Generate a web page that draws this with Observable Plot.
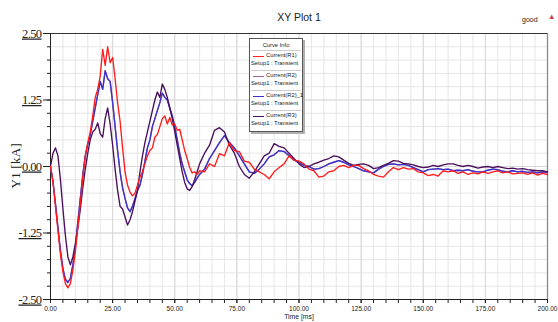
<!DOCTYPE html>
<html><head><meta charset="utf-8">
<script src="https://cdn.jsdelivr.net/npm/d3@7"></script>
<script src="https://cdn.jsdelivr.net/npm/@observablehq/plot@0.6"></script>
<style>
body{margin:0;background:#fff}
#wrap{position:relative;width:558px;height:322px;overflow:hidden;font-family:"Liberation Sans Narrow","Liberation Sans",Arial,sans-serif;color:#222}
.abs{position:absolute;white-space:nowrap;line-height:1}
g[aria-label="y-axis tick label"] text{text-decoration:underline;letter-spacing:-0.6px}
#legend{position:absolute;left:249px;top:38px;width:52px;height:92px;border:1px solid #555;background:#fff;box-shadow:2px 2px 0 #b0b0b0;font-size:5.8px}
#legend .sep{position:absolute;left:1px;right:1px;height:0;border-top:1px solid #ccc}
#legend .sw{position:absolute;left:3px;width:11px;height:0;border-top:1.5px solid}
</style></head>
<body>
<div id="wrap">
  <div id="chart"></div>
  <div class="abs" style="left:0;width:598px;top:12px;text-align:center;font-size:10.5px">XY Plot 1</div>
  <div class="abs" style="left:522px;top:16px;font-size:7px">good</div>
  <div class="abs" style="left:548px;top:13px;font-size:7.5px;color:#c04848">▲</div>
  <div class="abs" style="left:0;width:598px;top:314px;text-align:center;font-size:6.8px">Time [ms]</div>
  <div class="abs" style="left:16px;top:166px;transform:translate(-50%,-50%) rotate(-90deg);font-family:'Liberation Serif','Times New Roman',serif;font-size:13.5px">Y1 [kA]</div>
  <div id="legend"></div>
</div>
<script>
const seriesNames = ["Current(R1)", "Current(R2)", "Current(R2)_1", "Current(R3)"];
const seriesColors = ["#ff1c1c", "#a0668e", "#3b32cf", "#4a0f5c"];
const legendSub = "Setup1 : Transient";
const xTicks = [0, 25, 50, 75, 100, 125, 150, 175, 200];
const yTicks = [-2.5, -1.25, 0, 1.25, 2.5];

const time = [
  0,1,2,3,4,5,6,7,8,9,10,11,12,13,14,15,16,17,18,19,20,21,22,23,24,25,26,27,28,29,30,
  31,32,33,34,35,36,37,38,39,40,41,42,43,44,45,46,47,48,49,50,51,52,53,54,55,56,57,58,59,60,
  62,64,66,68,70,72,74,76,78,80,82,84,86,88,90,92,94,96,98,100,
  102,104,106,108,110,112,114,116,118,120,122,124,126,128,130,132,134,136,138,140,
  142,144,146,148,150,152,154,156,158,160,162,164,166,168,170,172,174,176,178,180,
  182,184,186,188,190,192,194,196,198,200
];

const r1 = [
  0.00,-0.30,-0.75,-1.20,-1.65,-1.98,-2.20,-2.28,-2.20,-1.95,-1.60,-1.15,-0.70,-0.20,0.20,0.45,0.65,0.95,1.30,1.45,1.70,
  2.20,1.90,2.25,1.95,2.05,1.65,1.20,0.85,0.35,-0.10,
  -0.35,-0.48,-0.55,-0.50,-0.35,-0.20,-0.10,0.05,0.20,0.30,0.35,0.55,0.60,0.75,0.90,0.95,0.80,0.92,0.78,0.80,
  0.68,0.70,0.50,0.30,0.15,-0.02,-0.12,-0.10,-0.15,-0.08,
  -0.10,0.05,0.00,0.24,0.20,0.45,0.30,0.28,0.10,0.08,-0.05,-0.10,-0.15,-0.23,-0.10,-0.02,0.05,0.20,0.12,0.10,
  0.05,-0.05,-0.08,-0.20,-0.18,-0.10,-0.08,0.00,0.02,-0.02,0.02,0.02,-0.04,-0.08,-0.15,-0.18,-0.20,-0.10,-0.02,-0.06,
  -0.02,-0.05,-0.04,-0.10,-0.12,-0.17,-0.15,-0.18,-0.08,-0.10,-0.08,-0.13,-0.10,-0.15,-0.12,-0.14,-0.10,-0.13,-0.10,-0.08,
  -0.12,-0.10,-0.14,-0.13,-0.12,-0.15,-0.12,-0.16,-0.13,-0.15
];

const r2_1 = [
  0.00,-0.28,-0.70,-1.15,-1.58,-1.92,-2.12,-2.18,-2.10,-1.85,-1.50,-1.05,-0.60,-0.15,0.20,0.42,0.60,0.85,1.10,1.35,1.60,
  1.45,1.80,1.65,1.60,1.20,0.75,0.30,-0.10,-0.40,-0.60,
  -0.78,-0.85,-0.75,-0.60,-0.45,-0.35,-0.15,0.10,0.35,0.50,0.75,0.90,1.05,1.20,1.38,1.30,1.25,1.10,0.95,0.75,
  0.50,0.25,0.05,-0.10,-0.25,-0.32,-0.36,-0.30,-0.22,-0.15,
  -0.05,0.15,0.30,0.45,0.58,0.45,0.35,0.20,0.05,-0.10,-0.13,-0.05,0.05,0.18,0.22,0.30,0.28,0.20,0.12,0.08,
  0.02,0.00,-0.05,-0.04,0.00,0.05,0.08,0.11,0.08,0.03,0.00,-0.04,-0.08,-0.10,-0.12,-0.05,0.00,0.04,0.05,0.03,
  0.04,0.02,-0.02,-0.06,-0.10,-0.06,-0.05,-0.04,-0.06,-0.05,-0.08,-0.07,-0.08,-0.06,-0.09,-0.10,-0.10,-0.07,-0.05,-0.06,
  -0.09,-0.10,-0.08,-0.10,-0.09,-0.11,-0.10,-0.12,-0.10,-0.11
];

const r2 = r2_1.slice();

const r3 = [
  0.00,0.25,0.35,0.20,-0.25,-0.80,-1.30,-1.70,-1.85,-1.70,-1.45,-1.15,-0.80,-0.40,-0.05,0.25,0.50,0.65,0.70,0.82,0.62,
  0.55,0.90,1.10,0.80,0.40,-0.05,-0.45,-0.75,-0.80,-0.95,
  -1.10,-1.00,-0.85,-0.65,-0.45,-0.10,0.20,0.45,0.65,0.85,1.05,1.25,1.40,1.30,1.55,1.45,1.30,1.10,0.90,0.65,
  0.40,0.15,-0.10,-0.30,-0.42,-0.45,-0.38,-0.25,-0.10,0.05,
  0.25,0.40,0.68,0.73,0.65,0.40,0.25,0.00,-0.15,-0.22,-0.10,0.05,0.20,0.25,0.43,0.38,0.35,0.25,0.15,0.05,
  -0.02,0.00,0.05,0.08,0.12,0.15,0.20,0.18,0.12,0.06,0.02,0.04,0.05,0.02,-0.04,-0.02,0.02,0.06,0.11,0.10,
  0.06,0.05,0.03,0.00,-0.02,-0.01,0.02,0.00,0.03,0.05,0.05,0.02,0.00,0.02,0.00,-0.03,-0.01,0.00,-0.02,0.00,
  -0.02,-0.04,-0.03,-0.05,-0.04,-0.06,-0.07,-0.08,-0.08,-0.10
];

const seriesValues = [r1, r2, r2_1, r3];
const drawOrder = [1, 2, 3, 0];

const rows = [];
for (const s of drawOrder) {
  time.forEach((t, i) => rows.push({t, v: seriesValues[s][i], s: seriesNames[s]}));
}

const minorX = d3.range(0, 201, 5);
const minorY = d3.range(-2.5, 2.501, 0.25).map(d => +d.toFixed(2));

const chart = Plot.plot({
  width: 558, height: 322,
  marginLeft: 50, marginRight: 11, marginTop: 33, marginBottom: 23,
  style: {background: "transparent", overflow: "visible"},
  x: {domain: [0, 200]},
  y: {domain: [-2.5, 2.5]},
  color: {domain: seriesNames, range: seriesColors},
  marks: [
    Plot.gridX(minorX, {stroke: "#e6e6e6", strokeOpacity: 1, strokeWidth: 1}),
    Plot.gridY(minorY, {stroke: "#e6e6e6", strokeOpacity: 1, strokeWidth: 1}),
    Plot.gridX(xTicks, {stroke: "#d8d8d8", strokeOpacity: 1, strokeWidth: 1}),
    Plot.gridY(yTicks, {stroke: "#d8d8d8", strokeOpacity: 1, strokeWidth: 1}),
    Plot.ruleX([200], {stroke: "#8a8a8a", strokeWidth: 1.3}),
    Plot.ruleY([2.5], {stroke: "#333"}),
    Plot.ruleX([0], {stroke: "#222"}),
    Plot.ruleY([-2.5], {stroke: "#222"}),
    Plot.axisY(minorY, {tickSize: 3, text: null, stroke: "#222", label: null}),
    Plot.axisY(yTicks, {tickSize: 7, tickPadding: 2, tickFormat: d => d.toFixed(2), fontFamily: "'Liberation Serif','Times New Roman',serif", fontSize: 12.5, fill: "#222", stroke: "#222", label: null}),
    Plot.axisX(minorX, {tickSize: 4, text: null, stroke: "#222", label: null}),
    Plot.axisX(xTicks, {tickSize: 4, tickPadding: 3, tickFormat: d => d.toFixed(2), fontFamily: "'Liberation Sans Narrow','Liberation Sans',sans-serif", fontSize: 6.5, fill: "#222", stroke: "#222", label: null}),
    Plot.line(rows, {x: "t", y: "v", z: "s", stroke: "s", strokeWidth: 1.35, curve: "linear"})
  ]
});
document.getElementById("chart").appendChild(chart);

// legend
const lg = document.getElementById("legend");
let html = `<div class="abs" style="left:0;width:52px;top:4px;text-align:center">Curve Info</div><div class="sep" style="top:11px"></div>`;
seriesNames.forEach((name, i) => {
  const top = 14 + i * 20;
  html += `<div class="sw" style="top:${top + 3}px;border-color:${seriesColors[i]}"></div>`;
  html += `<div class="abs" style="left:16px;top:${top}px">${name}</div>`;
  html += `<div class="abs" style="left:1px;top:${top + 8}px">${legendSub}</div>`;
  if (i < 3) html += `<div class="sep" style="top:${top + 17}px"></div>`;
});
lg.innerHTML = html;
</script>
</body></html>
